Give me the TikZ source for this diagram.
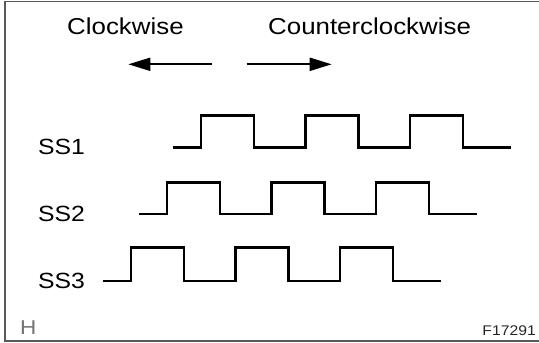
\documentclass[tikz,border=0pt]{standalone}
\usepackage{fontspec}
\setmainfont{Liberation Sans}[FakeStretch=1.125]
\usetikzlibrary{arrows.meta}
\begin{document}
\begin{tikzpicture}[
      x = 1pt, y = -1pt,
      frame/.style = {
        draw       = black!65,
        line width = 1.6pt
      }, wave/.style = {
        line width = 2.4pt,
        line join  = miter
      }, dirarrow/.style = {
        line width = 2pt,
        -{Triangle[length=22pt,width=13pt]}
      }
    ]
      \tikzset{
        heading/.style={anchor=base west,inner sep=0pt,font=\fontsize{23}{27}\selectfont},
        siglabel/.style={anchor=west,inner sep=0pt,font=\fontsize{22}{27}\selectfont}
      }
      \useasboundingbox (0,0) rectangle (539,343);
      \draw[frame] (541,1.5) -- (5,1.5) -- (5,341) -- (541,341);
      % direction headings
      \node[heading] (cw)  at (67,34)  {Clockwise};
      \node[heading] (ccw) at (268,34) {Counterclockwise};
      \coordinate (cw start)  at (211.7,64.3);
      \coordinate (cw end)    at (128.3,64.3);
      \coordinate (ccw start) at (246.7,64.3);
      \coordinate (ccw end)   at (331.7,64.3);
      \draw[dirarrow] (cw start) -- (cw end);
      \draw[dirarrow] (ccw start) -- (ccw end);
      % sensor signals
      \foreach \name/\lo/\hi/\rz in {SS1/147.3/115.3/200.7,SS2/213.7/182.3/166.7,SS3/281/247.3/130.7}{
        \node[siglabel] (label \name) at (38,\lo) {\name};
        \draw[wave] (\rz-28,\lo)
          \foreach \k in {0,1,2}{
            -- ({\rz+\k*104.6},\lo) -- ({\rz+\k*104.6},\hi) -- ++(53,0) -- ++(0,{\lo-\hi})
          } -- ++(48,0);
      }
      \node[anchor=base west,inner sep=0pt,text=black!55,font=\fontsize{20}{24}\selectfont] (corner) at (20,334) {H};
      \node[anchor=base east,inner sep=0pt,text=black!85,font=\fontsize{14}{17}\selectfont] (figno) at (536,335) {F17291};
    \end{tikzpicture}
\end{document}
